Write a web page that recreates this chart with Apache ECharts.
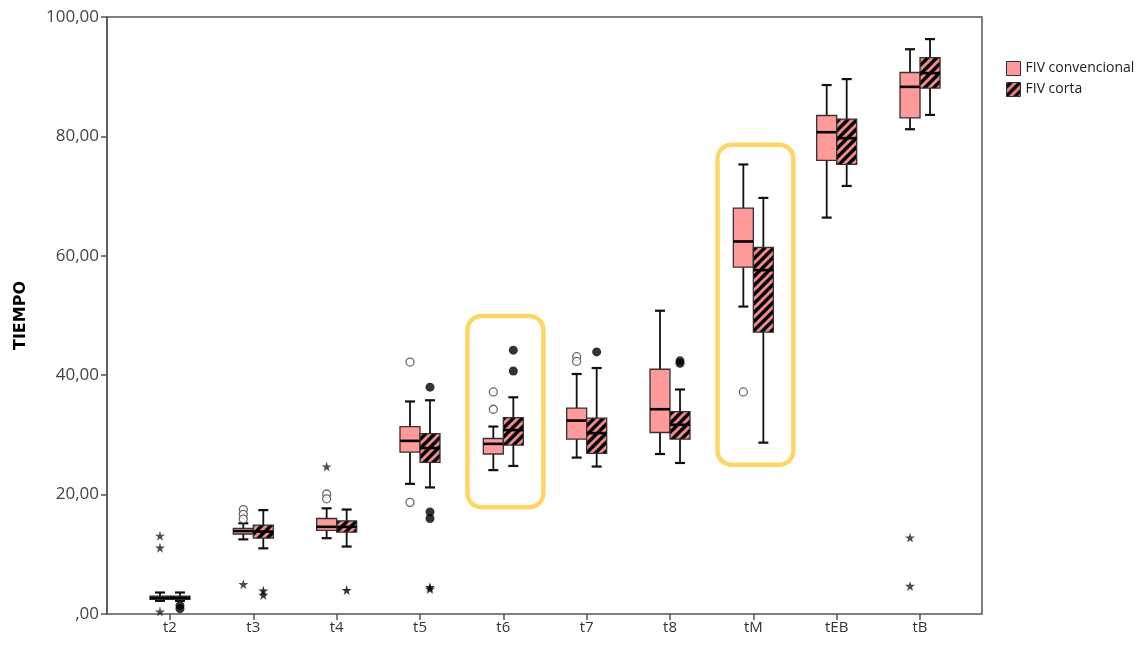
<!DOCTYPE html>
<html><head><meta charset="utf-8">
<script src="https://cdn.jsdelivr.net/npm/echarts@6/dist/echarts.min.js"></script>
<style>html,body{margin:0;padding:0;background:#fff}#c{width:1137px;height:645px}</style>
</head><body><div id="c"></div>
<script>
// ---------------- DATA ----------------
const categories = ['t2','t3','t4','t5','t6','t7','t8','tM','tEB','tB'];
// [low whisker, Q1, median, Q3, high whisker]
const convBox = [
  [2.2, 2.45, 2.7, 3.0, 3.6],
  [12.5, 13.4, 13.9, 14.35, 15.2],
  [12.7, 14.0, 14.6, 16.0, 17.7],
  [21.8, 27.1, 29.0, 31.4, 35.6],
  [24.1, 26.8, 28.5, 29.4, 31.4],
  [26.2, 29.3, 32.4, 34.5, 40.2],
  [26.8, 30.4, 34.3, 41.0, 50.8],
  [51.5, 58.1, 62.4, 68.0, 75.3],
  [66.4, 76.0, 80.7, 83.5, 88.6],
  [81.2, 83.1, 88.3, 90.7, 94.6]
];
const cortaBox = [
  [2.2, 2.45, 2.7, 3.0, 3.6],
  [11.0, 12.7, 13.8, 14.9, 17.4],
  [11.3, 13.7, 14.6, 15.6, 17.5],
  [21.2, 25.4, 27.8, 30.2, 35.8],
  [24.8, 28.3, 30.8, 32.9, 36.3],
  [24.7, 26.9, 30.3, 32.8, 41.2],
  [25.3, 29.3, 31.7, 33.9, 37.6],
  [28.7, 47.2, 57.6, 61.4, 69.7],
  [71.7, 75.3, 79.7, 82.9, 89.6],
  [83.6, 88.1, 90.6, 93.2, 96.3]
];
// outliers: [category, value]
const convOutliers = [['t3',17.5],['t3',16.7],['t3',15.9],['t4',20.1],['t4',19.3],['t5',42.2],['t5',18.7],['t6',37.2],['t6',34.3],['t7',43.1],['t7',42.3],['tM',37.2]];
const convExtremes = [['t2',13.1],['t2',11.1],['t2',0.4],['t3',5.0],['t4',24.7],['tB',12.8],['tB',4.7]];
const cortaOutliers = [['t2',1.4],['t2',0.9],['t5',38.0],['t5',17.1],['t5',16.0],['t6',44.2],['t6',40.7],['t7',43.9],['t8',42.0],['t8',42.4]];
const cortaExtremes = [['t3',3.9],['t3',3.2],['t4',4.0],['t5',4.5],['t5',4.2]];
const yTickValues = [0, 20, 40, 60, 80, 100];
const yTickLabels = [',00', '20,00', '40,00', '60,00', '80,00', '100,00'];
// highlighted groups: [category, from value, to value]
const highlights = [['t6', 17.9, 49.9], ['tM', 25.0, 78.6]];
const seriesNames = ['FIV convencional', 'FIV corta'];

// ---------------- STYLE ----------------
const PINK = '#ff9a9a';
const FONT = 'Open Sans';
function hatchCanvas(){
  const s = 9, c = document.createElement('canvas');
  c.width = s; c.height = s;
  const g = c.getContext('2d');
  g.fillStyle = '#000'; g.fillRect(0,0,s,s);
  g.strokeStyle = '#f08a8a'; g.lineWidth = 3;
  g.beginPath();
  g.moveTo(-2, s+2); g.lineTo(s+2, -2);
  g.moveTo(-2, 2); g.lineTo(2, -2);
  g.moveTo(s-2, s+2); g.lineTo(s+2, s-2);
  g.stroke();
  return c;
}
const HATCH = {image: hatchCanvas(), repeat: 'repeat'};

function boxData(arr){ return arr.map((b,i)=>[i].concat(b)); }
function ptData(arr){ return arr.map(p=>[categories.indexOf(p[0]), p[1]]); }

function boxRender(offFrac, fill){
  return function(params, api){
    const ci = api.value(0);
    const low = api.value(1), q1 = api.value(2), med = api.value(3), q3 = api.value(4), high = api.value(5);
    const band = api.size([1,0])[0];
    const cx = api.coord([ci, med])[0] + offFrac*band;
    const bw = band*0.24, cw = band*0.12;
    const Y = v => api.coord([ci, v])[1];
    const ls = {stroke:'#111', lineWidth:1.8};
    return {type:'group', children:[
      {type:'line', shape:{x1:cx,y1:Y(high),x2:cx,y2:Y(q3)}, style:ls},
      {type:'line', shape:{x1:cx,y1:Y(q1),x2:cx,y2:Y(low)}, style:ls},
      {type:'line', shape:{x1:cx-cw/2,y1:Y(high),x2:cx+cw/2,y2:Y(high)}, style:{stroke:'#111',lineWidth:2.2}},
      {type:'line', shape:{x1:cx-cw/2,y1:Y(low),x2:cx+cw/2,y2:Y(low)}, style:{stroke:'#111',lineWidth:2.2}},
      {type:'rect', shape:{x:cx-bw/2,y:Y(q3),width:bw,height:Y(q1)-Y(q3)}, style:{fill:fill, stroke:'#333', lineWidth:1.3}},
      {type:'line', shape:{x1:cx-bw/2,y1:Y(med),x2:cx+bw/2,y2:Y(med)}, style:{stroke:'#000',lineWidth:2.6}}
    ]};
  };
}
function hlRender(params, api){
  const ci = api.value(0);
  const band = api.size([1,0])[0];
  const cx = api.coord([ci, 0])[0];
  const yTop = api.coord([ci, api.value(2)])[1];
  const yBot = api.coord([ci, api.value(1)])[1];
  return {type:'rect', shape:{x:cx-0.43*band, y:yTop, width:0.91*band, height:yBot-yTop, r:14},
    style:{fill:'none', stroke:'#fdd766', lineWidth:4.5}};
}
const STAR = 'path://M50,0 L61,35 L98,35 L68,57 L79,91 L50,70 L21,91 L32,57 L2,35 L39,35 Z';

const chart = echarts.init(document.getElementById('c'), null, {renderer:'canvas'});
chart.setOption({
  animation:false,
  backgroundColor:'#fff',
  textStyle:{fontFamily:FONT},
  legend:{
    orient:'vertical', left:1006, top:61, padding:0, itemWidth:14, itemHeight:14, itemGap:6,
    textStyle:{fontSize:14, color:'#222', fontFamily:FONT},
    data:[
      {name:seriesNames[0], icon:'rect', itemStyle:{color:PINK, borderColor:'#333', borderWidth:1}},
      {name:seriesNames[1], icon:'rect', itemStyle:{color:HATCH, borderColor:'#333', borderWidth:1}}
    ]
  },
  grid:[
    {left:107, right:155, top:17, bottom:31, show:true, borderColor:'#555', borderWidth:1.5, backgroundColor:'transparent', outerBoundsMode:'none', containLabel:false},
    {left:128.3, right:175.3, top:17, bottom:31, outerBoundsMode:'none', containLabel:false}
  ],
  xAxis:[
    {gridIndex:0, type:'value', min:0, max:1, show:false},
    {gridIndex:1, type:'category', data:categories, boundaryGap:true,
     axisLine:{show:false}, axisTick:{show:true, alignWithLabel:true, length:6, lineStyle:{color:'#555', width:1.5}},
     axisLabel:{fontSize:15, color:'#333', margin:6, fontFamily:FONT}}
  ],
  yAxis:[
    {gridIndex:0, type:'value', min:0, max:100, interval:20,
     axisLine:{show:true, lineStyle:{color:'#555', width:1.5}},
     axisTick:{show:true, length:6, lineStyle:{color:'#555', width:1.5}},
     splitLine:{show:false},
     axisLabel:{fontSize:17, color:'#444', margin:8, fontFamily:FONT,
       formatter:v=>{const i=yTickValues.indexOf(v); return i>=0?yTickLabels[i]:'';}},
     name:'TIEMPO', nameLocation:'middle', nameGap:78, nameRotate:90,
     nameTextStyle:{fontSize:16, fontWeight:'bold', color:'#000', fontFamily:'DejaVu Sans'}},
    {gridIndex:1, type:'value', min:0, max:100, show:false}
  ],
  series:[
    {type:'custom', name:'hl', xAxisIndex:1, yAxisIndex:1, silent:true, z:1,
     data:highlights.map(h=>[categories.indexOf(h[0]), h[1], h[2]]), renderItem:hlRender, encode:{x:0,y:[1,2]}},
    {type:'custom', name:seriesNames[0], xAxisIndex:1, yAxisIndex:1, z:3, itemStyle:{color:PINK},
     data:boxData(convBox), renderItem:boxRender(-0.12, PINK), encode:{x:0, y:[1,2,3,4,5]}},
    {type:'custom', name:seriesNames[1], xAxisIndex:1, yAxisIndex:1, z:3, itemStyle:{color:'#000'},
     data:boxData(cortaBox), renderItem:boxRender(0.12, HATCH), encode:{x:0, y:[1,2,3,4,5]}},
    {type:'scatter', name:'convOut', xAxisIndex:1, yAxisIndex:1, z:4, symbol:'circle', symbolSize:8, symbolOffset:[-10,0],
     itemStyle:{color:'#fff', borderColor:'#444', borderWidth:1.3}, data:ptData(convOutliers)},
    {type:'scatter', name:'convExt', xAxisIndex:1, yAxisIndex:1, z:4, symbol:STAR, symbolSize:10, symbolOffset:[-10,0],
     itemStyle:{color:'#222'}, data:ptData(convExtremes)},
    {type:'scatter', name:'cortaOut', xAxisIndex:1, yAxisIndex:1, z:4, symbol:'circle', symbolSize:9, symbolOffset:[10,0],
     itemStyle:{color:'#000'}, data:ptData(cortaOutliers)},
    {type:'scatter', name:'cortaExt', xAxisIndex:1, yAxisIndex:1, z:4, symbol:STAR, symbolSize:10, symbolOffset:[10,0],
     itemStyle:{color:'#000'}, data:ptData(cortaExtremes)}
  ]
});
</script></body></html>
